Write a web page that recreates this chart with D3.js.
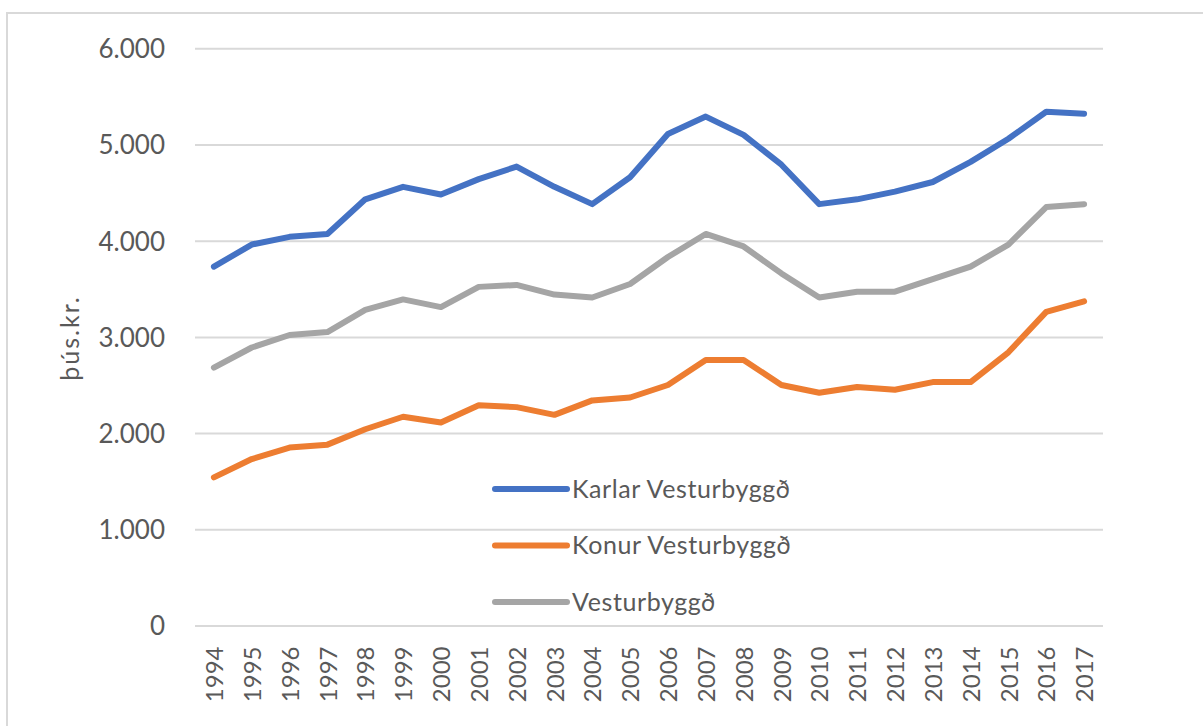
<!DOCTYPE html>
<html>
<head>
<meta charset="utf-8">
<script src="https://cdn.jsdelivr.net/npm/d3@7"></script>
<style>
  html, body { margin: 0; padding: 0; background: #fff; }
  svg { display: block; font-family: Lato, "Open Sans", sans-serif; }
  .tick text { fill: #595959; }
</style>
</head>
<body>
<svg id="chart" width="1203" height="726"></svg>
<script>
// Data (þús.kr.)
const years = d3.range(1994, 2018).map(String);
const karlar = [3730, 3960, 4040, 4070, 4430, 4560, 4480, 4640, 4770, 4560, 4380, 4660,
  5110, 5290, 5100, 4790, 4380, 4430, 4510, 4610, 4820, 5060, 5340, 5320];
const konur = [1540, 1730, 1850, 1880, 2040, 2170, 2110, 2290, 2270, 2190, 2340, 2370,
  2500, 2760, 2760, 2500, 2420, 2480, 2450, 2530, 2530, 2840, 3260, 3370];
const samtals = [2680, 2890, 3020, 3050, 3280, 3390, 3310, 3520, 3540, 3440, 3410, 3550,
  3830, 4070, 3940, 3660, 3410, 3470, 3470, 3600, 3730, 3960, 4350, 4380];
const yTicks = [0, 1000, 2000, 3000, 4000, 5000, 6000];

const series = [
  { name: 'Karlar Vesturbyggð', values: karlar, color: '#4472C4' },
  { name: 'Konur Vesturbyggð', values: konur, color: '#ED7D31' },
  { name: 'Vesturbyggð', values: samtals, color: '#A5A5A5' },
];

const svg = d3.select('#chart');
const plot = { left: 195, right: 1103, top: 48.3, bottom: 625.5 };

// Chart border (runs off the right and bottom edges like the original)
svg.append('rect')
  .attr('x', 7).attr('y', 13)
  .attr('width', 1220).attr('height', 740)
  .attr('fill', 'none')
  .attr('stroke', '#D9D9D9')
  .attr('stroke-width', 2);

const x = d3.scalePoint()
  .domain(years)
  .range([plot.left, plot.right])
  .padding(0.5);

const y = d3.scaleLinear()
  .domain([0, 6000])
  .range([plot.bottom, plot.top]);

const locale = d3.formatLocale({ decimal: ',', thousands: '.', grouping: [3], currency: ['', ' kr.'] });
const fmt = locale.format(',d');

// Y axis with gridlines
const yAxis = svg.append('g')
  .attr('transform', `translate(${plot.left},0)`)
  .call(d3.axisLeft(y)
    .tickValues(yTicks)
    .tickFormat(fmt)
    .tickSize(-(plot.right - plot.left))
    .tickPadding(30))
  .attr('font-family', null)
  .attr('font-size', null);

yAxis.select('.domain').remove();
yAxis.selectAll('.tick line')
  .attr('stroke', '#D9D9D9')
  .attr('stroke-width', 2);
yAxis.selectAll('.tick text')
  .attr('font-size', 26)
  .attr('dy', '0.36em');

// X axis labels, rotated
const xAxis = svg.append('g')
  .attr('transform', `translate(0,${plot.bottom})`)
  .call(d3.axisBottom(x).tickSize(0))
  .attr('font-family', null)
  .attr('font-size', null);

xAxis.select('.domain').remove();
xAxis.selectAll('.tick text')
  .attr('font-size', 24)
  .attr('text-anchor', 'end')
  .attr('transform', 'rotate(-90)')
  .attr('x', -21)
  .attr('y', 0)
  .attr('dy', '0.36em');

// Y axis title
svg.append('text')
  .attr('transform', 'translate(70,338) rotate(-90)')
  .attr('text-anchor', 'middle')
  .attr('dy', '0.35em')
  .attr('font-size', 25)
  .attr('letter-spacing', 2)
  .attr('fill', '#595959')
  .text('þús.kr.');

// Lines
const line = d3.line()
  .x((d, i) => x(years[i]))
  .y((d) => y(d));

svg.append('g')
  .selectAll('path')
  .data(series)
  .join('path')
  .attr('d', (d) => line(d.values))
  .attr('fill', 'none')
  .attr('stroke', (d) => d.color)
  .attr('stroke-width', 6)
  .attr('stroke-linecap', 'round')
  .attr('stroke-linejoin', 'round');

// Legend
const legend = svg.append('g')
  .selectAll('g')
  .data(series)
  .join('g')
  .attr('transform', (d, i) => `translate(495,${489 + i * 56.5})`);

legend.append('line')
  .attr('x1', 0).attr('x2', 72)
  .attr('stroke', (d) => d.color)
  .attr('stroke-width', 6)
  .attr('stroke-linecap', 'round');

legend.append('text')
  .attr('x', 77)
  .attr('dy', '0.35em')
  .attr('font-size', 25)
  .attr('letter-spacing', 0.6)
  .attr('fill', '#595959')
  .text((d) => d.name);
</script>
</body>
</html>
